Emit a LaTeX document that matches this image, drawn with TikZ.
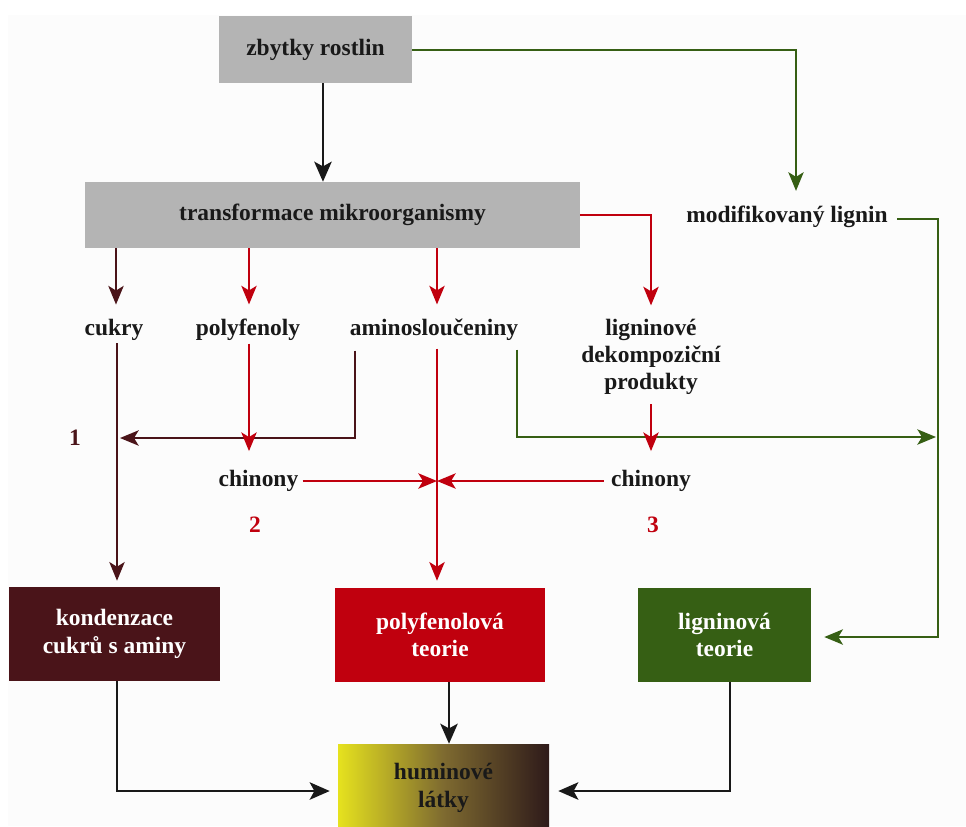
\documentclass[tikz,border=0pt]{standalone}
\usepackage{fontspec}
\setmainfont{Liberation Serif}
\usetikzlibrary{arrows.meta,calc}
\definecolor{bgc}{HTML}{FCFCFC}
\definecolor{grayb}{HTML}{B4B4B4}
\definecolor{mar}{HTML}{4A1419}
\definecolor{redc}{HTML}{C0000E}
\definecolor{grn}{HTML}{365F14}
\definecolor{huy}{HTML}{E6E21E}
\definecolor{humid}{HTML}{7E6A30}
\definecolor{hud}{HTML}{2E1A1A}
\begin{document}
\begin{tikzpicture}[x=0.75pt,y=-0.75pt,
  txt/.style={font=\bfseries\fontsize{17.6}{20.5}\selectfont, inner sep=0pt, align=center, text=black!90},
  box/.style={txt, minimum width=#1, minimum height=70.5pt},
  blk/.style={draw=black!90, line width=2pt, -{Stealth[length=15pt,width=13pt,inset=3.5pt]}},
  mline/.style={draw=mar, line width=1.5pt, -{Stealth[length=14pt,width=11.5pt,inset=3.5pt]}},
  rline/.style={draw=redc, line width=1.5pt, -{Stealth[length=14pt,width=11.5pt,inset=3.5pt]}},
  gline/.style={draw=grn, line width=1.5pt, -{Stealth[length=14pt,width=11.5pt,inset=3.5pt]}}
]
\useasboundingbox (0,0) rectangle (966,826);
\fill[white] (0,0) rectangle (966,826);
\fill[bgc] (8,15) rectangle (966,826);

% nodes
\node[txt, fill=grayb, minimum width=144.75pt, minimum height=50.25pt] (zr) at (315.5,49.5) {zbytky rostlin};
\node[txt, fill=grayb, minimum width=371.25pt, minimum height=49.5pt] (tm) at (332.5,215) {transformace mikroorganismy};
\node[txt] (ml) at (787,217) {modifikovaný lignin};
\node[txt] (cukry) at (114,329.5) {cukry};
\node[txt] (pf) at (248,329.5) {polyfenoly};
\node[txt] (am) at (434,329.5) {aminosloučeniny};
\node[txt] (lig) at (651,357) {ligninové\\dekompoziční\\produkty};
\node[txt] (ch1) at (258.5,481) {chinony};
\node[txt] (ch2) at (651,481) {chinony};
\node[txt, text=mar] (n1) at (75,438) {1};
\node[txt, text=redc] (n2) at (255,525) {2};
\node[txt, text=redc] (n3) at (653,525) {3};
\node[box=158.25pt, fill=mar, text=white] (kond) at (114.5,634) {kondenzace\\cukrů s aminy};
\node[box=157.5pt, fill=redc, text=white] (pb) at (440,635) {polyfenolová\\teorie};
\node[box=129.75pt, fill=grn, text=white] (lb) at (724.5,635) {ligninová\\teorie};
\node[txt, left color=huy, right color=hud, middle color=humid, minimum width=158.25pt, minimum height=66pt] (hum) at (443.5,788) {huminové\\látky};
\coordinate (gc) at (938,437);

% connectors
\draw[blk] ([xshift=5.6pt]zr.south) -- ([xshift=5.6pt]zr.south |- tm.north);
\draw[gline] (zr.east) -| ([xshift=6.75pt, yshift=11.25pt]ml.north);
\draw[gline] ([xshift=6.75pt,yshift=-1.5pt]ml.east) -| (gc) |- ([xshift=9.75pt,yshift=-1.5pt]lb.east);
\draw[rline] (tm.east) -| ([yshift=10pt]lig.north);
\draw[mline] ([xshift=1.5pt]tm.south -| cukry.north) -- ([xshift=1.5pt,yshift=10.5pt]cukry.north);
\draw[rline] ([xshift=0.75pt]tm.south -| pf.north) -- ([xshift=0.75pt,yshift=10.5pt]pf.north);
\draw[rline] ([xshift=2.25pt]tm.south -| am.north) -- ([xshift=2.25pt,yshift=10.5pt]am.north);

\draw[mline, shorten >=4.5pt] ([xshift=2.25pt,yshift=-2.25pt]cukry.south) -- ([xshift=2.25pt]cukry.south |- kond.north);
\draw[mline] ([xshift=3.75pt,yshift=-7.5pt]am.south west) |- ([xshift=4.5pt]cukry.south |- n1);
\draw[rline] ([xshift=0.75pt,yshift=-2.25pt]pf.south) -- ([xshift=0.75pt,yshift=14.25pt]pf.south |- ch1.north);
\draw[rline, shorten >=5.25pt] ([xshift=2.25pt,yshift=-6pt]am.south) -- ([xshift=2.25pt]am.south |- pb.north);
\draw[gline, shorten >=1.5pt] ([xshift=-0.75pt,yshift=-6.75pt]am.south east) |- (gc);
\draw[rline] ([yshift=-6.75pt]lig.south) -- ([yshift=14.25pt]ch2.north);
\draw[rline] ([xshift=3pt]ch1.east) -- ([xshift=2.25pt]am.south |- ch1);
\draw[rline] ([xshift=-5.25pt]ch2.west) -- ([xshift=2.25pt]am.south |- ch2);

\draw[blk] ([xshift=1.9pt]kond.south) |- ([xshift=-6pt,yshift=-2.25pt]hum.west);
\draw[blk] ([xshift=6.75pt]pb.south) -- ([xshift=6.75pt]pb.south |- hum.north);
\draw[blk] ([xshift=4.1pt]lb.south) |- ([xshift=6.75pt,yshift=-2.25pt]hum.east);
\end{tikzpicture}
\end{document}
